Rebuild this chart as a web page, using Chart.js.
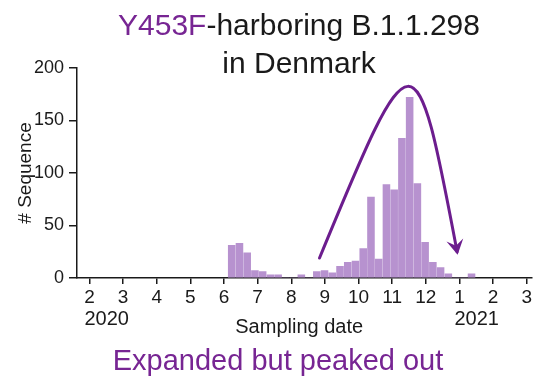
<!DOCTYPE html>
<html>
<head>
<meta charset="utf-8">
<script src="https://cdn.jsdelivr.net/npm/chart.js@4.4.1/dist/chart.umd.min.js"></script>
<style>
  body { margin: 0; background: #fff; }
  #wrap { position: relative; width: 534px; height: 381px; overflow: hidden;
          font-family: "Liberation Sans", Arial, sans-serif; color: #1a1a1a; }
  #chart { position: absolute; left: 0; top: 0; }
  #title { position: absolute; left: 0; top: 6px; width: 598px; text-align: center;
           font-size: 30px; line-height: 37.5px; white-space: nowrap; }
  #caption { position: absolute; left: 0; top: 343px; width: 556px; text-align: center;
             font-size: 29px; line-height: 34px; white-space: nowrap; }
  .purple { color: #772593; }
</style>
</head>
<body>
<div id="wrap">
  <canvas id="chart" width="534" height="381"></canvas>
  <div id="title"><span class="purple">Y453F</span>-harboring B.1.1.298<br>in Denmark</div>
  <div id="caption" class="purple">Expanded but peaked out</div>
</div>
<script>
// ==============================
// DATA
// ==============================
// weekly bins, x = week centre in months (2 = Feb 2020 ... 13 = Jan 2021)
const weekPos = [
  6.23, 6.46, 6.69, 6.92, 7.15, 7.38, 7.61, 7.84, 8.07, 8.30, 8.53,
  8.76, 8.99, 9.22, 9.45, 9.68, 9.91, 10.14, 10.37, 10.60, 10.83, 11.06,
  11.29, 11.52, 11.75, 11.98, 12.21, 12.44, 12.67, 12.90, 13.13, 13.36
];
const sequences = [
  31, 33, 24, 7, 6, 3, 3, 0, 0, 3, 0,
  6, 7, 5, 11, 15, 16, 28, 77, 18, 89, 84,
  133, 172, 90, 34, 15, 10, 4, 0, 0, 4
];

const monthTicks  = [2, 3, 4, 5, 6, 7, 8, 9, 10, 11, 12, 13, 14, 15];
const monthLabels = ["2", "3", "4", "5", "6", "7", "8", "9", "10", "11", "12", "1", "2", "3"];
const yearTicks   = [2, 13];
const yearNames   = ["2020", "2021"];

// "expanded then peaked" arrow, in data units (month, count)
const arrowPath = [[8.84, 19], [11.63, 236], [11.69, 236], [12.93, 25]];

// ==============================
// STYLE
// ==============================
const FONT = '"Liberation Sans", Arial, sans-serif';
const INK = "#1a1a1a";
const BAR = "#b792cf";
const ARROW = "#6c1d8e";

// ==============================
// EXTRA DRAWING (years, x title, arrow)
// ==============================
const decor = {
  id: "decor",
  afterDraw(chart) {
    const { ctx, scales: { x, y } } = chart;
    const base = y.getPixelForValue(0);

    ctx.save();
    ctx.fillStyle = INK;
    ctx.textBaseline = "alphabetic";

    ctx.font = `20px ${FONT}`;
    ctx.textAlign = "left";
    yearTicks.forEach((v, i) => {
      ctx.fillText(yearNames[i], x.getPixelForValue(v) - 5, base + 47);
    });

    ctx.font = `20px ${FONT}`;
    ctx.textAlign = "center";
    ctx.fillText("Sampling date", (x.left + x.right) / 2 - 5, base + 55);

    // arrow
    const p = arrowPath.map(([m, v]) => [x.getPixelForValue(m), y.getPixelForValue(v)]);
    ctx.strokeStyle = ARROW;
    ctx.fillStyle = ARROW;
    ctx.lineWidth = 3;
    ctx.lineCap = "round";
    ctx.beginPath();
    ctx.moveTo(p[0][0], p[0][1]);
    ctx.bezierCurveTo(p[1][0], p[1][1], p[2][0], p[2][1], p[3][0], p[3][1]);
    ctx.stroke();

    const dx = p[3][0] - p[2][0];
    const dy = p[3][1] - p[2][1];
    const len = Math.hypot(dx, dy);
    const ux = dx / len, uy = dy / len;
    const tipX = p[3][0] + ux * 3, tipY = p[3][1] + uy * 3;
    ctx.beginPath();
    ctx.moveTo(tipX, tipY);
    ctx.lineTo(tipX - ux * 15 - uy * 8.5, tipY - uy * 15 + ux * 8.5);
    ctx.lineTo(tipX - ux * 9, tipY - uy * 9);
    ctx.lineTo(tipX - ux * 15 + uy * 8.5, tipY - uy * 15 - ux * 8.5);
    ctx.closePath();
    ctx.fill();

    ctx.restore();
  }
};

// ==============================
// CHART
// ==============================
new Chart(document.getElementById("chart").getContext("2d"), {
  type: "bar",
  data: {
    datasets: [{
      data: weekPos.map((x, i) => ({ x, y: sequences[i] })),
      backgroundColor: BAR,
      borderWidth: 0,
      barThickness: 6.9
    }]
  },
  options: {
    responsive: false,
    animation: false,
    layout: { padding: { left: 14, right: 2, top: 68, bottom: 73 } },
    plugins: {
      legend: { display: false },
      tooltip: { enabled: false }
    },
    scales: {
      x: {
        type: "linear",
        min: 1.63,
        max: 15.14,
        offset: false,
        afterBuildTicks: s => { s.ticks = monthTicks.map(v => ({ value: v })); },
        afterFit: s => { s.height = 30; },
        ticks: {
          callback: (v, i) => monthLabels[i],
          autoSkip: false,
          maxRotation: 0,
          padding: 2,
          color: INK,
          font: { family: FONT, size: 19 }
        },
        grid: { offset: false, drawOnChartArea: false, tickLength: 6, color: INK, lineWidth: 1.5 },
        border: { color: INK, width: 1.5 }
      },
      y: {
        min: 0,
        max: 200,
        afterFit: s => { s.width = 63; },
        ticks: {
          stepSize: 50,
          padding: 5,
          color: INK,
          font: { family: FONT, size: 18 }
        },
        grid: { drawOnChartArea: false, tickLength: 8, color: INK, lineWidth: 1.5 },
        border: { color: INK, width: 1.5 },
        title: {
          display: true,
          text: "# Sequence",
          padding: 0,
          color: INK,
          font: { family: FONT, size: 19 }
        }
      }
    }
  },
  plugins: [decor]
});
</script>
</body>
</html>
